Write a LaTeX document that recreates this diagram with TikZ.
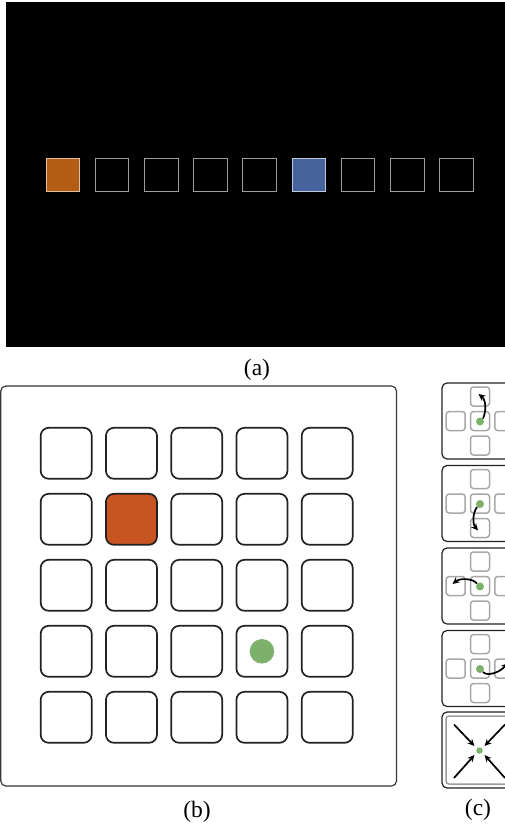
\documentclass[tikz,border=0pt]{standalone}
\usepackage{fontspec}
\setmainfont{Liberation Serif}
\usetikzlibrary{arrows.meta,calc}
\definecolor{aorange}{HTML}{B35C14}
\definecolor{ablue}{HTML}{47639E}
\definecolor{aedge}{HTML}{9C9C9C}
\definecolor{borange}{HTML}{C85422}
\definecolor{bgreen}{HTML}{7DB06A}
\definecolor{dark}{HTML}{222222}
\definecolor{cgray}{HTML}{A8A8A8}
\tikzset{
  asq/.style={draw=aedge, line width=0.9, minimum size=33.5, inner sep=0, fill=black},
  bsq/.style={draw=dark, line width=1.7, minimum size=51, inner sep=0, rounded corners=8},
  frame/.style={draw=dark!90, line width=1.2, rounded corners=5},
  cframe/.style={draw=dark, line width=1.2, minimum size=76, inner sep=0, rounded corners=5},
  csq/.style={draw=cgray, line width=1.5, minimum size=19, inner sep=0, rounded corners=3},
  cdot/.style={circle, fill=bgreen, minimum size=8, inner sep=0},
  carr/.style={draw=black, line width=1.7, -{Stealth[length=7,width=6.5]}},
  lbl/.style={inner sep=0, font=\fontsize{23.5}{28}\selectfont}
}
\begin{document}
\begin{tikzpicture}[x=1pt,y=-1pt]
\useasboundingbox (0,0) rectangle (505,829);
\clip (0,0) rectangle (505,829);
% ---------- panel (a)
\fill[black] (6,2) rectangle (505,347);
\foreach \i/\fc/\ec in {0/aorange/aorange!40!white,1/black/aedge,2/black/aedge,3/black/aedge,4/black/aedge,5/ablue/ablue!35!white,6/black/aedge,7/black/aedge,8/black/aedge}
  \node[asq, fill=\fc, draw=\ec] (a\i) at ({62.8+49.2*\i},175) {};
\node[lbl] (la) at (257,370) {(a)};
% ---------- panel (b)
\draw[frame] (0.8,386) rectangle (396.5,786);
\foreach \r in {0,...,4}
  \foreach \c in {0,...,4} {
    \ifnum\numexpr\r*10+\c\relax=11 \def\fc{borange}\else\def\fc{white}\fi
    \node[bsq, fill=\fc] (b\r\c) at ({66.2+65.25*\c},{453.3+66*\r}) {};
  }
\node[circle, fill=bgreen, minimum size=24.5, inner sep=0] (gdot) at (b33) {};
\node[lbl] (lb) at (197,812) {(b)};
% ---------- panel (c)
\foreach \k/\y in {1/421,2/503.5,3/586,4/668.5} {
  \node[cframe] (c\k) at (480,\y) {};
  \node[csq] (c\k t) at (480,\y-24.5) {};
  \node[csq] (c\k m) at (480,\y) {};
  \node[csq] (c\k b) at (480,\y+24.5) {};
  \node[csq] (c\k l) at (455.7,\y) {};
  \node[csq] (c\k r) at (504.3,\y) {};
  \node[cdot] (d\k) at (480,\y+0.5) {};
}
\coordinate (e1) at (478.5,394);
\coordinate (e2) at (478,530.5);
\coordinate (e3) at (452.5,584);
\coordinate (e4) at (508,663);
\draw[carr] (d1.north east) .. controls (486.5,411) and (486,400) .. (e1);
\draw[carr] (d2.south west) .. controls (472.5,513) and (472.5,524) .. (e2);
\draw[carr] (d3.north west) .. controls (472,578) and (460,578) .. (e3);
\draw[carr] (d4.south east) .. controls (486,676) and (498,674) .. (e4);
% box 5
\node[cframe] (c5) at (480,750) {};
\draw[draw=aedge, line width=1.5, rounded corners=3] (446,716) rectangle (514,784);
\node[circle, fill=bgreen, minimum size=6.5, inner sep=0] (d5) at (479.5,750.5) {};
\coordinate (s1) at (454,724.5);
\coordinate (s2) at (454,778);
\coordinate (s3) at (505,724.5);
\coordinate (s4) at (505,778);
\draw[carr] (s1) -- ($(d5)+(-5,-4.5)$);
\draw[carr] (s2) -- ($(d5)+(-5,4.5)$);
\draw[carr] (s3) -- ($(d5)+(5,-4.5)$);
\draw[carr] (s4) -- ($(d5)+(5,4.5)$);
\node[lbl] (lc) at (478,810) {(c)};
\end{tikzpicture}
\end{document}
